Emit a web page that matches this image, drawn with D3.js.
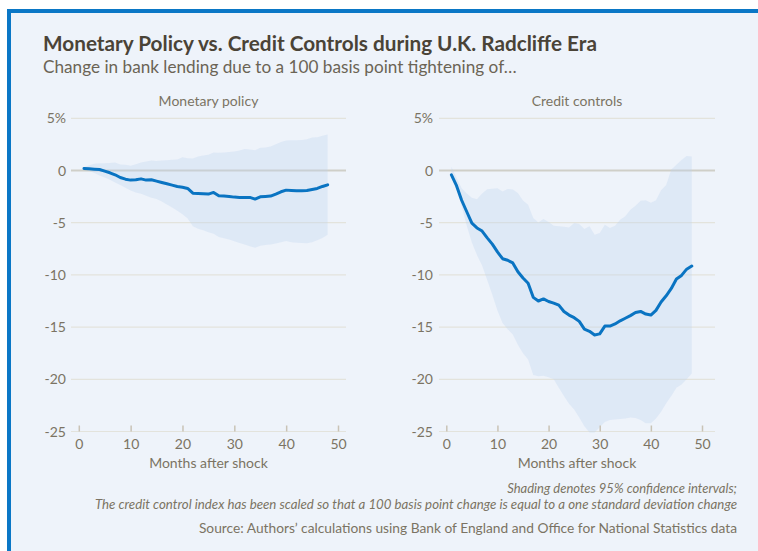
<!DOCTYPE html>
<html>
<head>
<meta charset="utf-8">
<script src="https://cdn.jsdelivr.net/npm/d3@7"></script>
<style>
  html, body { margin: 0; padding: 0; background: #ffffff; }
  svg { display: block; }
  text { font-family: "Lato", "Open Sans", sans-serif; }
</style>
</head>
<body>
<svg id="chart" width="758" height="551"></svg>
<script>
// ---------------- DATA ----------------
const months = [1,2,3,4,5,6,7,8,9,10,11,12,13,14,15,16,17,18,19,20,21,22,23,24,
                25,26,27,28,29,30,31,32,33,34,35,36,37,38,39,40,41,42,43,44,45,46,47,48];

const monetaryMid = [0.19,0.16,0.13,0.10,-0.06,-0.22,-0.41,-0.67,-0.83,-0.92,-0.89,-0.80,
  -0.92,-0.89,-1.02,-1.15,-1.27,-1.40,-1.53,-1.60,-1.72,-2.17,-2.20,-2.23,
  -2.26,-2.10,-2.42,-2.45,-2.48,-2.55,-2.58,-2.58,-2.58,-2.74,-2.52,-2.48,
  -2.45,-2.26,-2.04,-1.88,-1.91,-1.94,-1.94,-1.91,-1.82,-1.72,-1.53,-1.37];
const monetaryHigh = [0.32,0.50,0.64,0.70,0.70,0.73,0.76,0.57,0.54,0.45,0.60,0.76,
  0.86,0.96,0.92,0.96,0.99,1.02,1.05,1.27,1.18,1.15,1.34,1.43,
  1.50,1.72,1.69,1.72,1.78,1.82,1.91,2.07,2.00,1.94,2.17,2.20,
  2.29,2.52,2.74,2.87,2.90,2.90,2.93,2.99,3.15,3.18,3.34,3.44];
const monetaryLow = [0.16,-0.03,-0.25,-0.48,-0.67,-0.89,-1.15,-1.40,-1.66,-1.91,-2.10,-2.23,
  -2.42,-2.61,-2.74,-2.96,-3.25,-3.54,-3.85,-4.20,-4.59,-5.35,-5.57,-5.73,
  -5.92,-6.05,-6.37,-6.50,-6.62,-6.78,-6.94,-7.10,-7.26,-7.39,-7.20,-7.13,
  -7.10,-7.00,-6.88,-6.75,-6.88,-6.91,-6.94,-6.97,-6.88,-6.69,-6.46,-6.15];

const creditMid = [-0.42,-1.45,-2.85,-3.95,-5.05,-5.50,-5.80,-6.45,-7.05,-7.80,-8.45,-8.60,
  -8.85,-9.70,-10.30,-10.80,-12.15,-12.50,-12.30,-12.55,-12.70,-12.90,-13.50,-13.85,
  -14.10,-14.45,-15.20,-15.40,-15.75,-15.65,-14.90,-14.90,-14.70,-14.40,-14.15,-13.90,
  -13.60,-13.50,-13.75,-13.85,-13.40,-12.60,-12.00,-11.30,-10.40,-10.05,-9.45,-9.15];
const creditHigh = [0.35,-0.70,-1.70,-2.20,-2.60,-2.75,-2.20,-1.80,-1.75,-1.70,-2.00,-1.78,
  -1.82,-2.15,-2.87,-3.28,-4.55,-4.97,-4.65,-4.94,-5.29,-5.35,-5.38,-5.45,
  -5.03,-5.13,-5.60,-5.35,-6.15,-5.99,-5.19,-5.51,-5.29,-4.71,-4.39,-3.76,
  -3.38,-2.90,-2.85,-3.10,-2.85,-1.90,-1.40,0.10,0.55,1.00,1.40,1.35];
const creditLow = [-0.70,-1.70,-3.40,-5.30,-6.90,-8.10,-9.10,-10.50,-11.90,-13.40,-14.60,-15.20,
  -15.70,-16.70,-17.50,-18.10,-19.60,-19.70,-19.65,-19.80,-20.00,-20.80,-21.60,-22.35,
  -22.90,-23.65,-24.50,-25.10,-25.10,-24.60,-24.10,-23.90,-23.85,-23.80,-23.75,-23.65,
  -23.70,-23.90,-24.20,-24.20,-23.75,-23.10,-22.30,-21.60,-20.80,-20.50,-20.00,-19.45];

const yTicks = [5, 0, -5, -10, -15, -20, -25];
const yTickLabels = ["5%", "0", "-5", "-10", "-15", "-20", "-25"];
const xTicks = [0, 10, 20, 30, 40, 50];
const panelTitles = ["Monetary policy", "Credit controls"];
const xAxisTitle = "Months after shock";

const titleText = "Monetary Policy vs. Credit Controls during U.K. Radcliffe Era";
const subtitleText = "Change in bank lending due to a 100 basis point tightening of\u2026";
const noteLines = [
  "Shading denotes 95% confidence intervals;",
  "The credit control index has been scaled so that a 100 basis point change is equal to a one standard deviation change"
];
const sourceText = "Source: Authors\u2019 calculations using Bank of England and Office for National Statistics data";

// ---------------- STYLE / LAYOUT ----------------
const C = {
  bg: "#eef3fa", border: "#0a77c6", title: "#4a4337", sub: "#6b6455",
  axis: "#7b7363", grid: "#e3e3dc", zero: "#cfcfc8", tick: "#c9c3b6",
  line: "#0a74c2", band: "rgb(190,212,238)"
};

const svg = d3.select("#chart");

// card background with blue top/left border
svg.append("rect").attr("x", 7).attr("y", 9).attr("width", 760).attr("height", 560).attr("fill", C.bg);
svg.append("rect").attr("x", 7).attr("y", 9).attr("width", 760).attr("height", 4).attr("fill", C.border);
svg.append("rect").attr("x", 7).attr("y", 9).attr("width", 4).attr("height", 560).attr("fill", C.border);

function fitWidth(sel, target) {
  const w = sel.node().getComputedTextLength();
  const fs = parseFloat(sel.attr("font-size"));
  sel.attr("font-size", (fs * target / w).toFixed(2));
}

// Titles
const t = svg.append("text").attr("x", 43).attr("y", 51).attr("font-size", 20)
  .attr("font-weight", 700).attr("fill", C.title).text(titleText);
fitWidth(t, 554);
const st = svg.append("text").attr("x", 43).attr("y", 73).attr("font-size", 17)
  .attr("fill", C.sub).text(subtitleText);
fitWidth(st, 474);

// Panels
const y = d3.scaleLinear().domain([-25, 5]).range([431.5, 118.3]);

const panels = [
  { title: panelTitles[0], mid: monetaryMid, low: monetaryLow, high: monetaryHigh,
    gx0: 71, gx1: 346, xr: [78.8, 338], labelX: 66 },
  { title: panelTitles[1], mid: creditMid, low: creditLow, high: creditHigh,
    gx0: 439, gx1: 715, xr: [446.3, 702], labelX: 433 }
];

panels.forEach(p => {
  const g = svg.append("g");
  const x = d3.scaleLinear().domain([0, 50]).range(p.xr);
  const cx = (p.gx0 + p.gx1) / 2;

  // panel title
  g.append("text").attr("x", cx).attr("y", 106).attr("text-anchor", "middle")
    .attr("font-size", 14).attr("fill", C.axis).text(p.title);

  // gridlines
  g.selectAll(".grid").data(yTicks).join("line")
    .attr("x1", p.gx0).attr("x2", p.gx1)
    .attr("y1", d => y(d)).attr("y2", d => y(d))
    .attr("stroke", d => d === 0 ? C.zero : C.grid)
    .attr("stroke-width", d => d === 0 ? 2 : 1.2);

  // y labels
  g.selectAll(".ylab").data(yTicks).join("text")
    .attr("x", p.labelX).attr("y", d => y(d)).attr("dy", "0.36em")
    .attr("text-anchor", "end").attr("font-size", 14).attr("fill", C.axis)
    .text((d, i) => yTickLabels[i]);

  // confidence band
  const area = d3.area()
    .x((d, i) => x(months[i]))
    .y0((d, i) => y(p.low[i]))
    .y1((d, i) => y(p.high[i]));
  g.append("path").datum(p.mid).attr("d", area)
    .attr("fill", C.band).attr("fill-opacity", 0.32);

  // x axis ticks
  const xAxis = d3.axisBottom(x).tickValues(xTicks).tickSize(0).tickPadding(0);
  const ax = g.append("g").attr("transform", `translate(0, ${y(-25)})`).call(xAxis);
  ax.select(".domain").remove();
  ax.selectAll(".tick text").attr("y", 17).attr("dy", 0)
    .attr("font-size", 14).attr("fill", C.axis).attr("font-family", "Lato, sans-serif");
  ax.selectAll(".tick").append("line")
    .attr("y1", -6).attr("y2", 0).attr("stroke", C.tick).attr("stroke-width", 1.5);

  // line
  const line = d3.line().x((d, i) => x(months[i])).y(d => y(d));
  g.append("path").datum(p.mid).attr("d", line)
    .attr("fill", "none").attr("stroke", C.line).attr("stroke-width", 3)
    .attr("stroke-linejoin", "round").attr("stroke-linecap", "round");

  // x axis title
  g.append("text").attr("x", cx).attr("y", 468).attr("text-anchor", "middle")
    .attr("font-size", 14).attr("fill", C.axis).text(xAxisTitle);
});

// Notes
noteLines.forEach((s, i) => {
  const n = svg.append("text").attr("x", 737).attr("y", 493 + i * 15.5)
    .attr("text-anchor", "end").attr("font-size", 13).attr("font-style", "italic")
    .attr("fill", C.axis).text(s);
  if (i === 1) fitWidth(n, 643);
});
const src = svg.append("text").attr("x", 737).attr("y", 533).attr("text-anchor", "end")
  .attr("font-size", 14).attr("fill", C.axis).text(sourceText);
fitWidth(src, 538);
</script>
</body>
</html>
